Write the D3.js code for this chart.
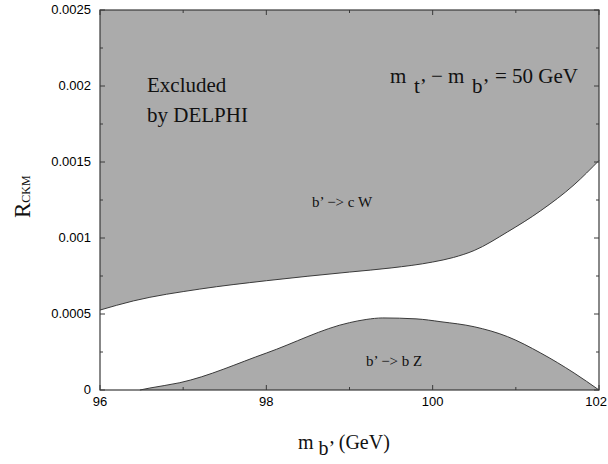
<!DOCTYPE html>
<html><head><meta charset="utf-8">
<script src="https://cdn.jsdelivr.net/npm/d3@7"></script>
<style>body{margin:0;background:#fff}</style>
</head><body>
<script>
// Upper exclusion boundary (b' -> c W): region above is excluded
const massUpper = [96.0, 96.4, 97.2, 98.0, 99.0, 99.5, 100.0, 100.25, 100.5, 100.9, 101.3, 101.7, 102.0];
const rUpper    = [0.000526, 0.000586, 0.000664, 0.000719, 0.000776, 0.000803, 0.000842, 0.000872, 0.000918, 0.00104, 0.00118, 0.00135, 0.00151];
// Lower exclusion boundary (b' -> b Z): region below is excluded
const massLower = [96.48, 96.6, 96.96, 98.0, 99.0, 99.2, 99.4, 99.8, 100.1, 100.5, 100.9, 101.3, 101.7, 102.0];
const rLower    = [0, 0.000013, 0.000048, 0.000243, 0.000443, 0.000464, 0.000474, 0.000468, 0.000449, 0.000416, 0.000351, 0.000243, 0.000112, 0];

const xTicks = [96, 98, 100, 102];
const xMinor = [97, 99, 101];
const yTicks = [0, 0.0005, 0.001, 0.0015, 0.002, 0.0025];
const yTickLabels = ["0", "0.0005", "0.001", "0.0015", "0.002", "0.0025"];
const yMinor = [0.00025, 0.00075, 0.00125, 0.00175, 0.00225];

const W = 608, H = 464;
const L = 100, R = 599, T = 10, B = 390;
const svg = d3.select("body").append("svg").attr("width", W).attr("height", H);
const x = d3.scaleLinear().domain([96, 102]).range([L, R]);
const y = d3.scaleLinear().domain([0, 0.0025]).range([B, T]);

const fill = "#ababab", edge = "#3a3a3a";
const up = massUpper.map((m, i) => [m, rUpper[i]]);
const lo = massLower.map((m, i) => [m, rLower[i]]);

svg.append("path").datum(up)
  .attr("d", d3.area().x(d => x(d[0])).y0(y(0.0025)).y1(d => y(d[1])).curve(d3.curveMonotoneX))
  .attr("fill", fill);
svg.append("path").datum(lo)
  .attr("d", d3.area().x(d => x(d[0])).y0(y(0)).y1(d => y(d[1])).curve(d3.curveMonotoneX))
  .attr("fill", fill);
const line = d3.line().x(d => x(d[0])).y(d => y(d[1])).curve(d3.curveMonotoneX);
svg.append("path").datum(up).attr("d", line).attr("fill", "none").attr("stroke", edge).attr("stroke-width", 1);
svg.append("path").datum(lo).attr("d", line).attr("fill", "none").attr("stroke", edge).attr("stroke-width", 1);

// ticks (inward, mirrored)
const tk = svg.append("g").attr("stroke", edge).attr("stroke-width", 1);
xTicks.forEach(v => { tk.append("line").attr("x1", x(v)).attr("x2", x(v)).attr("y1", B).attr("y2", B - 5);
                      tk.append("line").attr("x1", x(v)).attr("x2", x(v)).attr("y1", T).attr("y2", T + 5); });
xMinor.forEach(v => { tk.append("line").attr("x1", x(v)).attr("x2", x(v)).attr("y1", B).attr("y2", B - 3);
                      tk.append("line").attr("x1", x(v)).attr("x2", x(v)).attr("y1", T).attr("y2", T + 3); });
yTicks.forEach(v => { tk.append("line").attr("x1", L).attr("x2", L + 5).attr("y1", y(v)).attr("y2", y(v));
                      tk.append("line").attr("x1", R).attr("x2", R - 5).attr("y1", y(v)).attr("y2", y(v)); });
yMinor.forEach(v => { tk.append("line").attr("x1", L).attr("x2", L + 3).attr("y1", y(v)).attr("y2", y(v));
                      tk.append("line").attr("x1", R).attr("x2", R - 3).attr("y1", y(v)).attr("y2", y(v)); });

svg.append("rect").attr("x", L).attr("y", T).attr("width", R - L).attr("height", B - T)
  .attr("fill", "none").attr("stroke", edge).attr("stroke-width", 1.2);

const sans = "'Liberation Sans', Arial, sans-serif";
const serif = "'Liberation Serif', 'Times New Roman', serif";
svg.append("g").selectAll("text").data(xTicks).join("text")
  .attr("x", d => d === 102 ? W - 1 : x(d)).attr("y", 406)
  .attr("text-anchor", d => d === 102 ? "end" : "middle")
  .attr("font-family", sans).attr("font-size", 13).text(d => d);
svg.append("g").selectAll("text").data(yTicks).join("text")
  .attr("x", 91).attr("y", d => y(d) + 4).attr("text-anchor", "end")
  .attr("font-family", sans).attr("font-size", 13).text((d, i) => yTickLabels[i]);

// annotations
const ann = svg.append("g").attr("font-family", serif).attr("fill", "#111");
ann.append("text").attr("x", 147).attr("y", 92).attr("font-size", 21).text("Excluded");
ann.append("text").attr("x", 147).attr("y", 122).attr("font-size", 21).text("by DELPHI");
const t1 = ann.append("text").attr("y", 83).attr("font-size", 21);
t1.append("tspan").attr("x", 390).text("m");
t1.append("tspan").attr("x", 414).attr("dy", 10).text("t\u2019");
t1.append("tspan").attr("x", 431).attr("dy", -10).text("\u2212 m");
t1.append("tspan").attr("x", 472).attr("dy", 10).text("b\u2019");
t1.append("tspan").attr("x", 495).attr("dy", -10).text("= 50 GeV");
ann.append("text").attr("x", 312).attr("y", 207).attr("font-size", 15).text("b\u2019 \u2212> c W");
ann.append("text").attr("x", 366).attr("y", 366).attr("font-size", 15).text("b\u2019 \u2212> b Z");

// axis titles
const xl = svg.append("text").attr("x", 298).attr("y", 449).attr("font-family", serif).attr("font-size", 20).attr("fill", "#111");
xl.append("tspan").text("m ");
xl.append("tspan").attr("dy", 6).text("b\u2019");
xl.append("tspan").attr("dy", -6).text(" (GeV)");
const yl = svg.append("text").attr("transform", "translate(30,218) rotate(-90)")
  .attr("font-family", serif).attr("fill", "#111");
yl.append("tspan").attr("font-size", 23).text("R");
yl.append("tspan").attr("font-size", 12).text("CKM");
</script>
</body></html>
